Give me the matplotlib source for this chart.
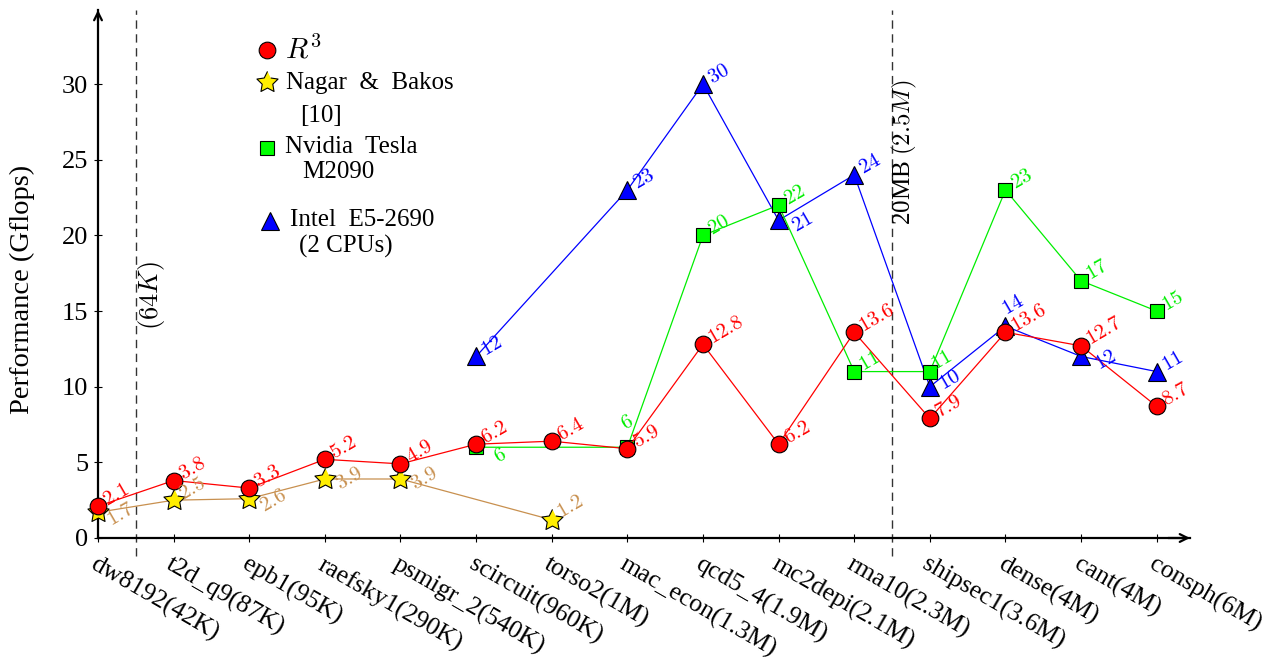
import numpy as np
import matplotlib
matplotlib.use("Agg")
import matplotlib.pyplot as plt
from matplotlib.lines import Line2D

plt.rcParams['font.family'] = ['Liberation Serif', 'DejaVu Serif']
plt.rcParams['mathtext.fontset'] = 'cm'

# ---------------- data ----------------
categories = ["dw8192(42K)", "t2d_q9(87K)", "epb1(95K)", "raefsky1(290K)",
              "psmigr_2(540K)", "scircuit(960K)", "torso2(1M)", "mac_econ(1.3M)",
              "qcd5_4(1.9M)", "mc2depi(2.1M)", "rma10(2.3M)", "shipsec1(3.6M)",
              "dense(4M)", "cant(4M)", "consph(6M)"]

r3_idx = list(range(15))
r3_val = [2.1, 3.8, 3.3, 5.2, 4.9, 6.2, 6.4, 5.9, 12.8, 6.2, 13.6, 7.9, 13.6, 12.7, 8.7]

nagar_idx = [0, 1, 2, 3, 4, 6]
nagar_val = [1.7, 2.5, 2.6, 3.9, 3.9, 1.2]

nvidia_idx = [5, 7, 8, 9, 10, 11, 12, 13, 14]
nvidia_val = [6, 6, 20, 22, 11, 11, 23, 17, 15]

intel_idx = [5, 7, 8, 9, 10, 11, 12, 13, 14]
intel_val = [12, 23, 30, 21, 24, 10, 14, 12, 11]

yticks = [0, 5, 10, 15, 20, 25, 30]

# ---------------- style ----------------
W, H = 1279, 662
RED = '#ff0000'
TAN = '#c8904f'
GREEN = '#00ee00'
BLUE = '#0000ff'

# fat five-pointed star marker (pgf style)
_ang = np.pi / 2 + np.arange(10) * np.pi / 5
_rad = np.where(np.arange(10) % 2 == 0, 1.0, 0.5)
STAR = np.column_stack([_rad * np.cos(_ang), _rad * np.sin(_ang)])

fig = plt.figure(figsize=(W / 100, H / 100), dpi=100)
ax = fig.add_axes([98 / W, 1 - 538 / H, (1190 - 98) / W, (538 - 10) / H])
ax.set_xlim(0, 14.44)
ax.set_ylim(0, 34.9)

series = [
    ("intel", intel_idx, intel_val, BLUE, '^', 13, BLUE, 2),
    ("nvidia", nvidia_idx, nvidia_val, GREEN, 's', 9.5, '#00ff00', 3),
    ("nagar", nagar_idx, nagar_val, TAN, STAR, 16, '#ffee00', 4),
    ("r3", r3_idx, r3_val, RED, 'o', 12, RED, 5),
]

default_off = (5, 3)
special_off = {
    ("nagar", 0): (8, -7), ("nagar", 2): (9, -7), ("nagar", 3): (9, -5),
    ("nagar", 4): (9, -5), ("nagar", 6): (5, 4),
    ("nvidia", 5): (14, -9), ("nvidia", 7): (-3, 15),
    ("intel", 9): (11, -6), ("intel", 11): (8, 0), ("intel", 12): (-1, 11),
    ("intel", 13): (11, -7), ("nvidia", 11): (2, 4),
}

for name, xs, ys, col, mk, ms, fc, z in series:
    ax.plot(xs, ys, color=col, lw=0.9, marker=mk, markersize=ms,
            markerfacecolor=fc, markeredgecolor='black', markeredgewidth=0.8,
            zorder=z, clip_on=False)
    for x, y in zip(xs, ys):
        dx, dy = special_off.get((name, x), default_off)
        txt = f"${y:g}$"
        ax.annotate(txt, (x, y), xytext=(dx, dy), textcoords='offset points',
                    color=col, fontsize=15, rotation=30, rotation_mode='anchor',
                    ha='left', va='center', zorder=z + 5)

# dashed separators
for xv in (0.5, 10.5):
    ax.plot([xv, xv], [-1.2, 34.9], color='#333333', lw=1.0,
            dashes=(6, 4), clip_on=False, zorder=1)
ax.text(0.71, 16.0, r"$(64K)$", rotation=90, ha='center', va='center',
        fontsize=19)
ax.text(10.67, 25.5, r"20MB $(2.5M)$", rotation=90, ha='center', va='center',
        fontsize=18)

# axes
for s in ('top', 'right'):
    ax.spines[s].set_visible(False)
ax.spines['left'].set_linewidth(1.6)
ax.spines['bottom'].set_linewidth(1.6)
ax.annotate('', xy=(1.0, 0), xytext=(0.98, 0), xycoords='axes fraction',
            arrowprops=dict(arrowstyle='->', lw=1.6, color='black',
                            mutation_scale=14, shrinkA=0, shrinkB=0))
ax.annotate('', xy=(0, 1.0), xytext=(0, 0.98), xycoords='axes fraction',
            arrowprops=dict(arrowstyle='->', lw=1.6, color='black',
                            mutation_scale=14, shrinkA=0, shrinkB=0))

ax.set_xticks(range(len(categories)))
ax.set_xticklabels(categories, rotation=-30, rotation_mode='anchor',
                   ha='left', va='top', fontsize=18.5)
ax.set_yticks(yticks)
ax.set_yticklabels([str(v) for v in yticks], fontsize=19)
ax.tick_params(axis='both', direction='inout', length=6, width=0.8)
ax.tick_params(axis='x', pad=8)
ax.tick_params(axis='y', pad=4)
ax.set_ylabel("Performance (Gflops)", fontsize=20.5)
ax.yaxis.set_label_coords(-0.058, 0.47)

# legend (manual)
def fxy(px, py):
    return px / W, 1 - py / H

leg = [
    ('o', 12, RED, (267, 50), [(r"$R^3$", 285, 50)]),
    (STAR, 16, '#ffee00', (267, 82), [("Nagar  &  Bakos", 286, 83), ("[10]", 300, 116)]),
    ('s', 9.5, '#00ff00', (267, 148), [("Nvidia  Tesla", 285, 147), ("M2090", 302, 172)]),
    ('^', 13, BLUE, (270, 221), [("Intel  E5-2690", 290, 220), ("(2 CPUs)", 299, 246)]),
]
for mk, ms, fc, (mx, my), texts in leg:
    fig.add_artist(Line2D([mx / W], [1 - my / H], marker=mk, markersize=ms,
                          markerfacecolor=fc, markeredgecolor='black',
                          markeredgewidth=0.8, linestyle='none',
                          transform=fig.transFigure))
    for t, tx, ty in texts:
        fs = 21 if t.startswith('$') else 18
        fig.text(*fxy(tx, ty), t, ha='left', va='center', fontsize=fs)

fig.savefig("out.png", dpi=100)
